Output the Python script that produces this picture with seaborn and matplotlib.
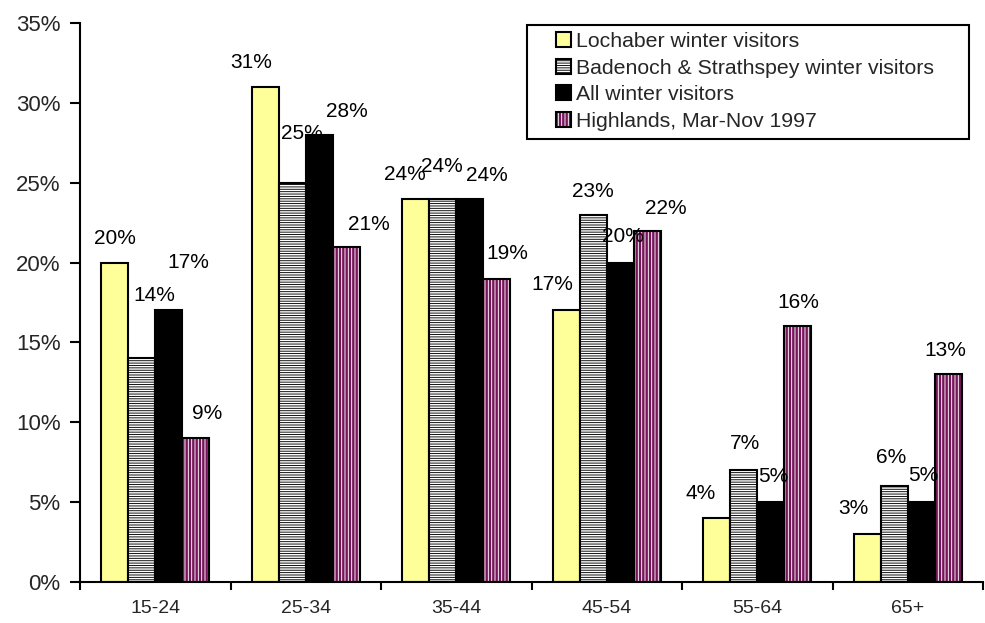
import matplotlib
matplotlib.use("Agg")
import matplotlib.pyplot as plt
from matplotlib.patches import Rectangle
from matplotlib.ticker import FixedLocator, PercentFormatter
import numpy as np
import pandas as pd
import seaborn as sns

# Age groups and the share of visitors in each (percent)
age_groups = ["15-24", "25-34", "35-44", "45-54", "55-64", "65+"]
series_names = [
    "Lochaber winter visitors",
    "Badenoch & Strathspey winter visitors",
    "All winter visitors",
    "Highlands, Mar-Nov 1997",
]
lochaber = [20, 31, 24, 17, 4, 3]
badenoch = [14, 25, 24, 23, 7, 6]
all_winter = [17, 28, 24, 20, 5, 5]
highlands = [9, 21, 19, 22, 16, 13]
y_ticks = [0, 5, 10, 15, 20, 25, 30, 35]

# Label placement relative to each bar top: (dx, dy) in pixels, per series
label_offsets = [
    [(0, 24), (-14, 24), (-11, 24), (-14, 26), (-16, 25), (-14, 26)],
    [(13, 63), (10, 49), (-1, 32), (0, 23), (1, 27), (-3, 29)],
    [(20, 48), (28, 23), (17, 23), (3, 26), (2, 26), (2, 27)],
    [(11, 25), (22, 22), (10, 25), (18, 22), (0, 24), (-3, 24)],
]

df = pd.DataFrame({
    "age": np.tile(age_groups, 4),
    "series": np.repeat(series_names, len(age_groups)),
    "value": lochaber + badenoch + all_winter + highlands,
})

colors = ["#FFFF99", "#FFFFFF", "#000000", "#76145A"]
hatches = ["", "-------", "", "|||||"]

sns.set_theme(style="white")
plt.rcParams["font.family"] = ["Liberation Sans", "DejaVu Sans"]
plt.rcParams["hatch.linewidth"] = 0.65

fig = plt.figure(figsize=(9.85, 6.23), dpi=100)
ax = fig.add_axes([80 / 985, 1 - 582 / 623, (983 - 80) / 985, (582 - 23) / 623])

sns.barplot(
    data=df, x="age", y="value", hue="series", order=age_groups,
    hue_order=series_names, palette=colors, width=0.72, gap=0,
    edgecolor="black", linewidth=1.5, saturation=1, errorbar=None,
    legend=False, ax=ax,
)

white = (1, 1, 1, 1)
for k, cont in enumerate(ax.containers):
    for j, bar in enumerate(cont):
        bar.set_hatch(hatches[k])
        if k == 3:
            # white stripes on purple with a black outline
            if hasattr(bar, "set_hatchcolor"):
                bar.set_hatchcolor("white")
            else:
                bar._hatch_color = white
        dx, dy = label_offsets[k][j]
        val = cont.datavalues[j]
        ax.annotate(
            f"{val:.0f}%",
            xy=(bar.get_x() + bar.get_width() / 2, bar.get_height()),
            xytext=(dx, dy), textcoords="offset pixels",
            ha="center", va="center", fontsize=15, color="black",
        )

ax.set_xlim(-0.5, len(age_groups) - 0.5)
ax.set_ylim(0, 35)
ax.yaxis.set_major_locator(FixedLocator(y_ticks))
ax.yaxis.set_major_formatter(PercentFormatter(decimals=0))
ax.set_xlabel("")
ax.set_ylabel("")

ax.xaxis.set_minor_locator(FixedLocator(np.arange(-0.5, len(age_groups), 1.0)))
ax.tick_params(axis="x", which="major", length=0, pad=13, labelsize=14)
ax.tick_params(axis="x", which="minor", length=6, width=1.5, color="black",
               direction="out", bottom=True)
ax.tick_params(axis="y", which="major", length=7, width=1.5, color="black",
               direction="out", left=True, pad=7, labelsize=16)

for side in ("top", "right"):
    ax.spines[side].set_visible(False)
for side in ("left", "bottom"):
    ax.spines[side].set_color("black")
    ax.spines[side].set_linewidth(1.5)

# Legend with a separately drawn frame
fig.patches.append(Rectangle(
    (527 / 985, 1 - 139 / 623), (969 - 527) / 985, (139 - 25) / 623,
    transform=fig.transFigure, facecolor="white", edgecolor="black",
    linewidth=1.5, zorder=5,
))
leg = fig.legend(
    handles=list(ax.containers), labels=series_names,
    loc="upper left", bbox_to_anchor=(556 / 985, 1 - 32 / 623),
    bbox_transform=fig.transFigure, frameon=False, fontsize=15.3,
    handlelength=0.7, handleheight=0.7, handletextpad=0.25,
    labelspacing=0.36, borderpad=0, borderaxespad=0,
)
leg.set_zorder(6)

fig.savefig("out.png", dpi=100, facecolor="white")
